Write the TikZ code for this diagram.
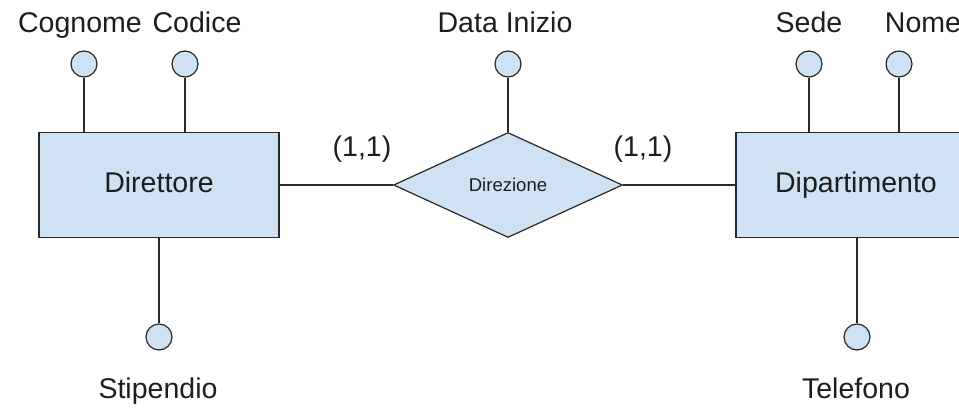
\documentclass[tikz,border=0pt]{standalone}
\usepackage{fontspec}
\setmainfont{Liberation Sans}
\usepackage{tikz}
\usetikzlibrary{shapes.geometric,positioning,calc}
\definecolor{erfill}{RGB}{207,226,243}
\definecolor{erline}{RGB}{40,40,40}
\definecolor{ertext}{RGB}{30,30,30}
\tikzset{
  entity/.style={rectangle, draw=erline, fill=erfill, line width=0.9pt,
                 minimum width=180pt, minimum height=78.75pt, inner sep=0pt,
                 text height=15.5pt, text depth=4.5pt,
                 text=ertext, font=\fontsize{21.4}{24}\selectfont},
  relation/.style={diamond, draw=erline, fill=erfill, line width=0.9pt,
                   minimum width=171.75pt, minimum height=78.75pt, inner sep=0pt,
                   text=ertext, font=\fontsize{13.9}{16}\selectfont},
  attr/.style={circle, draw=erline, fill=erfill, line width=0.9pt,
               minimum size=19.5pt, inner sep=0pt},
  attrlabel/.style={anchor=base, inner sep=0pt, text=ertext,
                    font=\fontsize{21.4}{24}\selectfont},
  link/.style={draw=erline, line width=0.9pt},
}
\begin{document}
\begin{tikzpicture}[x=0.75pt,y=-0.75pt]
  \useasboundingbox (0,0) rectangle (959,407);
  \clip (0,0) rectangle (959,407);

  % entities and relationship
  \node[entity] (direttore) at (159,185) {Direttore};
  \node[relation] (direzione) at (508,185) {Direzione};
  \node[entity] (dipartimento) at (856,185) {Dipartimento};

  \draw[link] (direttore.east) -- (direzione.west);
  \draw[link] (direzione.east) -- (dipartimento.west);

  % cardinalities
  \node[attrlabel] (cardDir) at (362,156) {(1,1)};
  \node[attrlabel] (cardDip) at (643,156) {(1,1)};

  % attributes of Direttore
  \node[attr] (cognome) at (84,64) {};
  \node[attr] (codice) at (185,64) {};
  \node[attr] (stipendio) at (159,337) {};
  \draw[link] (cognome) -- (cognome |- direttore.north);
  \draw[link] (codice) -- (codice |- direttore.north);
  \draw[link] (stipendio) -- (stipendio |- direttore.south);
  \node[attrlabel] (cognomeLbl) at (80,32) {Cognome};
  \node[attrlabel] (codiceLbl) at (197,32) {Codice};
  \node[attrlabel] (stipendioLbl) at (158,398) {Stipendio};

  % attribute of Direzione
  \node[attr] (datainizio) at (508,64) {};
  \draw[link] (datainizio) -- (direzione.north);
  \node[attrlabel] (datainizioLbl) at (505,32) {Data Inizio};

  % attributes of Dipartimento
  \node[attr] (sede) at (809,64) {};
  \node[attr] (nome) at (899,64) {};
  \node[attr] (telefono) at (857,337) {};
  \draw[link] (sede) -- (sede |- dipartimento.north);
  \draw[link] (nome) -- (nome |- dipartimento.north);
  \draw[link] (telefono) -- (telefono |- dipartimento.south);
  \node[attrlabel] (sedeLbl) at (809,32) {Sede};
  \node[attrlabel] (nomeLbl) at (923,32) {Nome};
  \node[attrlabel] (telefonoLbl) at (856,398) {Telefono};
\end{tikzpicture}
\end{document}
